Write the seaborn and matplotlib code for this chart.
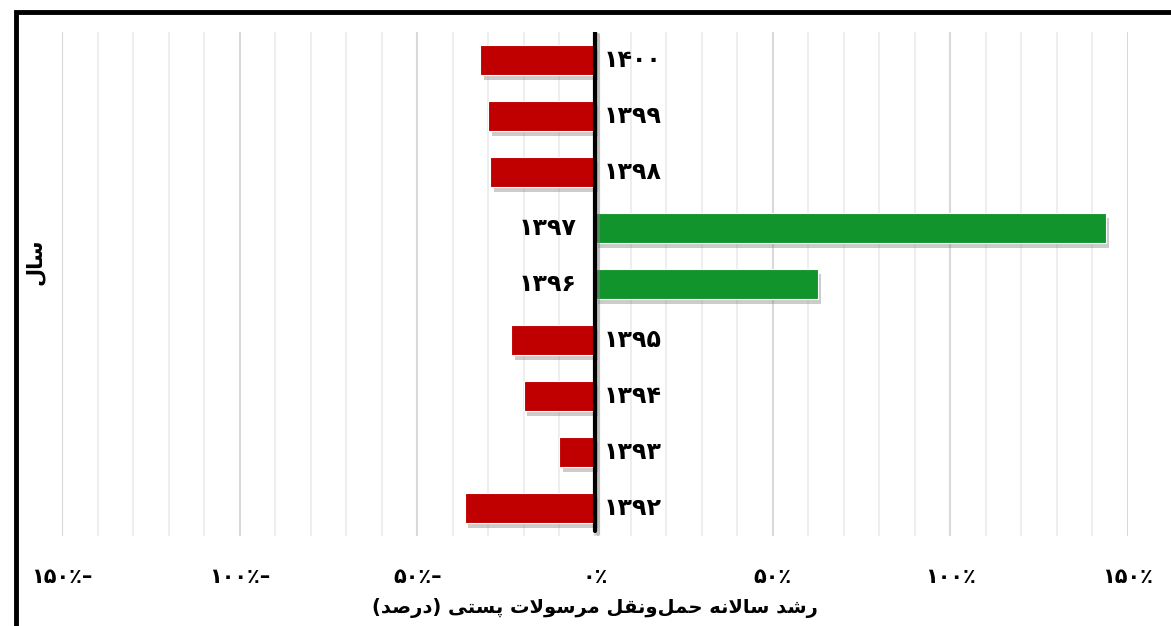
import matplotlib
matplotlib.use("Agg")
import matplotlib.pyplot as plt
import matplotlib.patheffects as pe
from matplotlib.patches import Rectangle
from matplotlib.ticker import MultipleLocator
import seaborn as sns
import pandas as pd

# ---- data ----
years = ["۱۳۹۲", "۱۳۹۳", "۱۳۹۴", "۱۳۹۵", "۱۳۹۶", "۱۳۹۷", "۱۳۹۸", "۱۳۹۹", "۱۴۰۰"]
growth = [-36.6, -10.1, -20.0, -23.6, 62.7, 143.7, -29.5, -30.1, -32.3]
xticks = [-150, -100, -50, 0, 50, 100, 150]
xtick_labels = ["۱۵۰٪–", "۱۰۰٪–", "۵۰٪–", "۰٪", "۵۰٪", "۱۰۰٪", "۱۵۰٪"]
# Persian labels written in visual (shaped, left-to-right) order
xlabel_text = ("(\uFEAA\uFEBB\uFEAD\uFEA9) "
               "\uFBFD\uFE98\uFEB4\uFB58 "
               "\uFE95\uFEFB\uFEEE\uFEB3\uFEAE\uFEE3 "
               "\uFEDE\uFED8\uFEE7\uFEED\uFEDE\uFEE4\uFEA3 "
               "\uFEEA\uFEE7\uFEFB\uFE8E\uFEB3 "
               "\uFEAA\uFEB7\uFEAD")
ylabel_text = "\uFEDD\uFE8E\uFEB3"

RED = "#C00000"
GREEN = "#10942B"

df = pd.DataFrame({"year": years, "growth": growth})
order = years[::-1]
palette = {y: (GREEN if v > 0 else RED) for y, v in zip(years, growth)}

sns.set_theme(style="white")
plt.rcParams["font.family"] = ["DejaVu Sans"]
plt.rcParams["text.color"] = "black"
plt.rcParams["xtick.color"] = "black"
plt.rcParams["axes.labelcolor"] = "black"

fig = plt.figure(figsize=(11.71, 6.26), dpi=100)
ax = fig.add_axes([62 / 1171, 90 / 626, (1128 - 62) / 1171, (536 - 32) / 626])

sns.barplot(data=df, y="year", x="growth", hue="year", order=order,
            hue_order=order, palette=palette, orient="h", width=0.53,
            saturation=1, legend=False, ax=ax, edgecolor="white",
            linewidth=0.8, zorder=3)

shadow = [pe.SimplePatchShadow(offset=(2.5, -3.5), shadow_rgbFace="#808080", alpha=0.4),
          pe.Normal()]
for p in ax.patches:
    p.set_path_effects(shadow)

ax.set_xlim(-150, 150)
ax.set_ylim(len(years) - 0.5, -0.5)

# grid
ax.xaxis.set_major_locator(MultipleLocator(50))
ax.xaxis.set_minor_locator(MultipleLocator(10))
ax.grid(which="major", axis="x", color="#D9D9D9", lw=1.5, zorder=0)
ax.grid(which="minor", axis="x", color="#EDEDED", lw=1.3, zorder=0)
ax.set_axisbelow(True)

ax.set_xticks(xticks)
ax.set_xticklabels(xtick_labels, fontsize=15, fontweight="bold", color="black")
ax.tick_params(axis="x", which="both", length=0, pad=22)
ax.set_yticks([])
ax.set_ylabel("")
for s in ax.spines.values():
    s.set_visible(False)

# zero axis
ax.axvline(0, ymin=0.01, color="black", lw=3, zorder=5,
           path_effects=[pe.SimpleLineShadow(offset=(2.5, -2), shadow_color="#808080", alpha=0.5),
                         pe.Normal()])

# year labels next to the axis
for y, v in zip(years, growth):
    i = order.index(y)
    if v < 0:
        ax.annotate(y, (0, i), xytext=(6, 0), textcoords="offset points",
                    ha="left", va="center", fontsize=17, fontweight="bold", zorder=6)
    else:
        ax.annotate(y, (0, i), xytext=(-13, 0), textcoords="offset points",
                    ha="right", va="center", fontsize=17, fontweight="bold", zorder=6)

ax.set_xlabel(xlabel_text, fontsize=14, fontweight="bold", labelpad=8, color="black")
fig.text(35 / 1171, 1 - 262 / 626, ylabel_text, rotation=90, ha="center", va="center",
         fontsize=15, fontweight="bold")

# outer frame
fig.patches.append(Rectangle((16 / 1171, -0.2), 1.3, 1.2 - 12 / 626,
                             transform=fig.transFigure, fill=False,
                             edgecolor="black", lw=3.5))

fig.savefig("out.png", dpi=100, facecolor="white")
